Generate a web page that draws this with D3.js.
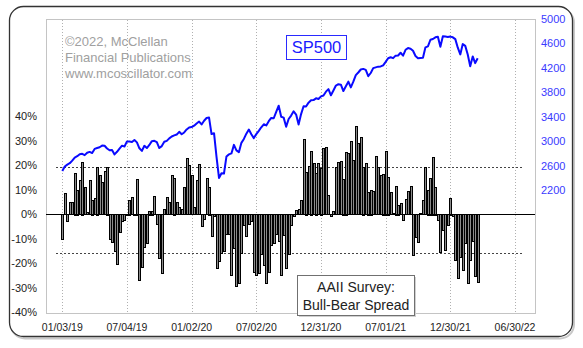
<!DOCTYPE html>
<html><head><meta charset="utf-8">
<script src="https://cdn.jsdelivr.net/npm/d3@7"></script>
<style>
html,body{margin:0;padding:0;background:#fff;}
svg{display:block;font-family:"Liberation Sans",Arial,sans-serif;}
</style></head>
<body><svg id="c" width="583" height="348"></svg>
<script>
// ---- data (weekly, Thursdays starting 01/03/19) ----
const firstWeek = "2019-01-03";
const spread = [
 -10, 8.7, -3, 5, 5, 17, 10, 14, 21.5, 11,
 1, 14, 6, 6.5, 19.5, 16, 13, 17.7, 19.5, -10,
 -11.5, -15, -20.5, -7.5, -3, -2.5, 0.3, 6, 7, -0.5,
 14.5, -27, -21.5, -13.5, -12, 1.5, 1.5, 7.3, -4, -18,
 -24, 2, 7, 5, 16, 15, 5, 3, 2, 11,
 23, 20, 16, 3, 14, 20.5, -5, -2, 14.7, 11.3,
 -9, -1, -22, -19, -16, -15, -8, -8, -25, -14,
 -29.5, -28, -16, -4.5, -9, -4, -3, -23.5, -25, -24,
 -16.5, -21, -28, -23.5, -12.5, -12, -8, -11, -25, -8.5,
 -22, -16.5, -4.4, -1, 1.8, 2, 5.9, 30.6, 17.4, 19.7,
 26, 20.8, 17, 21, 19, 27, 27.5, 7.8, -1, 1.4,
 19.2, 21.2, 21.6, 14.6, 25.6, 24.9, 29.9, 22.2, 36, 29,
 31.5, 19.5, 20.8, 9.3, 10, 9.5, 23.8, 19.3, 16, 16.6,
 26, 15.4, 9, 0.5, 11.7, 4, 4.5, -2.3, 6.1, 9.5,
 11.6, -16.9, -9.4, -11.4, 0.5, 5.9, 19.2, 10, 15, 23.5,
 11.3, -2.3, -15.5, -6.4, -14.5, -4.3, 6.8, -1, -18.6, -26,
 -17.5, -22.7, -11.8, -28, -18.6, -11, -25.4, -27.7
];
const sp500 = [
 2510, 2585, 2616, 2639, 2681, 2731, 2753, 2785, 2792, 2771,
 2811, 2824, 2805, 2873, 2888, 2900, 2927, 2924, 2879, 2850,
 2856, 2783, 2826, 2879, 2926, 2913, 2996, 2993, 2985, 3019,
 2980, 2883, 2840, 2924, 2887, 2937, 3000, 3006, 2984, 2887,
 2919, 2990, 3004, 3046, 3076, 3094, 3108, 3153, 3113, 3142,
 3191, 3223, 3231, 3253, 3289, 3321, 3273, 3334, 3379, 3386,
 3116, 3130, 2741, 2398, 2475, 2470, 2750, 2783, 2799, 2939,
 2848, 2820, 2972, 3036, 3122, 3190, 3113, 3050, 3115, 3169,
 3227, 3276, 3258, 3327, 3380, 3375, 3479, 3580, 3399, 3385,
 3237, 3363, 3419, 3489, 3436, 3271, 3443, 3572, 3568, 3630,
 3669, 3672, 3701, 3690, 3733, 3748, 3810, 3852, 3751, 3830,
 3910, 3932, 3925, 3820, 3898, 3974, 3881, 3973, 4080, 4124,
 4173, 4183, 4167, 4063, 4116, 4195, 4208, 4220, 4223, 4242,
 4298, 4358, 4374, 4359, 4400, 4402, 4447, 4400, 4496, 4524,
 4514, 4480, 4395, 4359, 4363, 4364, 4536, 4551, 4660, 4672,
 4700, 4710, 4546, 4716, 4712, 4705, 4712, 4700, 4670, 4530,
 4420, 4589, 4560, 4420, 4225, 4387, 4278, 4358
];
const xTickLabels = ["01/03/19","07/04/19","01/02/20","07/02/20","12/31/20","07/01/21","12/30/21","06/30/22"];
const leftTicks = [-40, -30, -20, -10, 0, 10, 20, 30, 40];
const rightTicks = [2200, 2600, 3000, 3400, 3800, 4200, 4600, 5000];
const refLevels = [19.2, -15.7];
const creditLines = ["\u00A92022, McClellan", "Financial Publications", "www.mcoscillator.com"];
const seriesLabel = "SP500";
const boxLines = ["AAII Survey:", "Bull-Bear Spread"];

// ---- layout ----
const P = {l: 46, t: 19, r: 535, b: 313};
const svg = d3.select("#c");
const parse = d3.timeParse("%m/%d/%y");
const t0 = d3.timeParse("%Y-%m-%d")(firstWeek);
const dates = spread.map((_, i) => d3.timeDay.offset(t0, 7 * i));

const x = d3.scaleTime().domain([parse("01/03/19"), parse("06/30/22")]).range([62.3, 515]);
const yL = d3.scaleLinear().domain([-40, 40]).range([312.3, 116.3]);
const yR = d3.scaleLinear().domain([2200, 5000]).range([190, 19]);

// outer frame with shadow
svg.append("rect").attr("x", 11).attr("y", 8.5).attr("width", 563).attr("height", 330)
  .attr("rx", 14).attr("fill", "none").attr("stroke", "#c8c8c8").attr("stroke-width", 2);
svg.append("rect").attr("x", 9.5).attr("y", 6.5).attr("width", 563).attr("height", 330)
  .attr("rx", 14).attr("fill", "#fff").attr("stroke", "#333").attr("stroke-width", 1.3);

// plot area
svg.append("rect").attr("x", P.l + 0.5).attr("y", P.t + 0.5)
  .attr("width", P.r - P.l).attr("height", P.b - P.t)
  .attr("fill", "#fff").attr("stroke", "#c4c4c4");

// vertical grid
svg.append("g").selectAll("line").data(xTickLabels).join("line")
  .attr("x1", d => Math.round(x(parse(d))) + 0.5).attr("x2", d => Math.round(x(parse(d))) + 0.5)
  .attr("y1", P.t + 1).attr("y2", P.b)
  .attr("stroke", "#b0b0b0").attr("stroke-dasharray", "1,2");

// reference dotted lines
svg.append("g").selectAll("line").data(refLevels).join("line")
  .attr("x1", 56).attr("x2", 522)
  .attr("y1", d => Math.round(yL(d)) + 0.5).attr("y2", d => Math.round(yL(d)) + 0.5)
  .attr("stroke", "#444").attr("stroke-dasharray", "2,2");

// bars (crisp: gray fill with black outline)
svg.append("g").attr("shape-rendering", "crispEdges").selectAll("rect").data(spread).join("rect")
  .attr("x", (d, i) => Math.round(x(dates[i]) - 1) + 0.5)
  .attr("width", 2)
  .attr("y", d => Math.round(Math.min(yL(d), yL(0))) + 0.5)
  .attr("height", d => Math.max(1, Math.round(Math.abs(yL(d) - yL(0)))))
  .attr("fill", "#8a8a8a").attr("stroke", "#000").attr("stroke-width", 1);

// zero line
svg.append("line").attr("x1", P.l).attr("x2", P.r)
  .attr("y1", Math.round(yL(0)) + 0.5).attr("y2", Math.round(yL(0)) + 0.5)
  .attr("stroke", "#000");

// SP500 line
const line = d3.line().x((d, i) => x(dates[i])).y(d => yR(d));
svg.append("path").datum(sp500).attr("d", line)
  .attr("fill", "none").attr("stroke", "#0a0aff").attr("stroke-width", 2)
  .attr("stroke-linejoin", "round");

// left axis labels
svg.append("g").selectAll("text").data(leftTicks).join("text")
  .attr("x", 37).attr("y", d => yL(d) + 4)
  .attr("text-anchor", "end").attr("font-size", 11).attr("fill", "#222")
  .text(d => d + "%");

// right axis labels
svg.append("g").selectAll("text").data(rightTicks).join("text")
  .attr("x", 541).attr("y", d => yR(d) + 4)
  .attr("font-size", 11).attr("fill", "#3a3aff")
  .text(d => d);

// x labels
svg.append("g").selectAll("text").data(xTickLabels).join("text")
  .attr("x", d => x(parse(d))).attr("y", 331)
  .attr("text-anchor", "middle").attr("font-size", 10.5).attr("fill", "#222")
  .text(d => d);

// credit
svg.append("g").selectAll("text").data(creditLines).join("text")
  .attr("x", 65).attr("y", (d, i) => 46 + i * 16)
  .attr("font-size", 13).attr("fill", "#a0a0a0")
  .text(d => d);

// SP500 label box
svg.append("rect").attr("x", 286.5).attr("y", 35.5).attr("width", 60).attr("height", 24)
  .attr("fill", "#fff").attr("stroke", "#2a2aff");
svg.append("text").attr("x", 316.5).attr("y", 53).attr("text-anchor", "middle")
  .attr("font-size", 16.5).attr("fill", "#1a1aff").text(seriesLabel);

// AAII box
svg.append("rect").attr("x", 299).attr("y", 277).attr("width", 117).attr("height", 40)
  .attr("fill", "#d0d0d0");
svg.append("rect").attr("x", 297.5).attr("y", 275.5).attr("width", 117).attr("height", 40)
  .attr("fill", "#fff").attr("stroke", "#707070");
svg.append("g").selectAll("text").data(boxLines).join("text")
  .attr("x", 356).attr("y", (d, i) => 292 + i * 18)
  .attr("text-anchor", "middle").attr("font-size", 14).attr("fill", "#222")
  .text(d => d);
</script></body></html>
